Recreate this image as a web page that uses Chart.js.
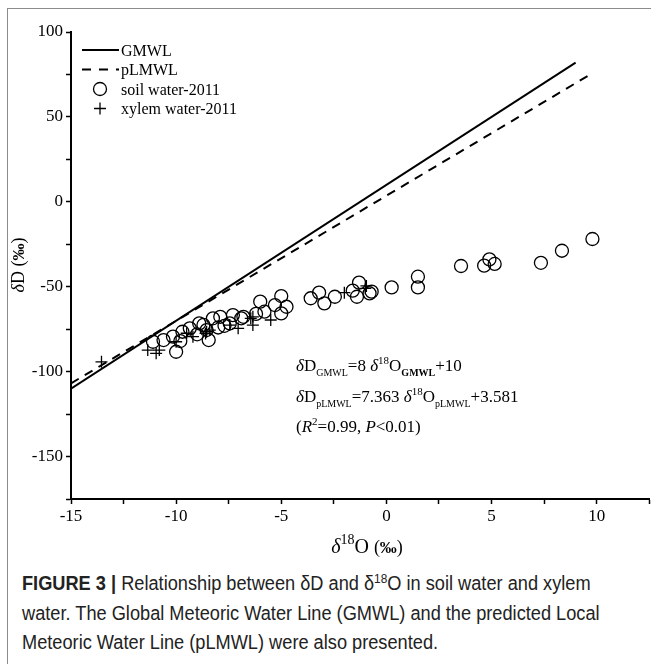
<!DOCTYPE html>
<html>
<head>
<meta charset="utf-8">
<script src="https://cdn.jsdelivr.net/npm/chart.js@4.4.1/dist/chart.umd.min.js"></script>
<style>
  body { margin: 0; background: #fff; width: 651px; height: 664px; overflow: hidden; position: relative; }
  #frame { position: absolute; left: 7px; top: 8px; right: -5px; bottom: -5px; border-left: 1.5px solid #8c8c8c; border-top: 1.5px solid #8c8c8c; }
  #wrap { position: absolute; left: 0; top: 0; width: 657px; height: 560px; }
  #caption { position: absolute; left: 22px; top: 569px; white-space: nowrap; transform: scaleX(0.91); transform-origin: 0 0;
    font-family: "Liberation Sans", sans-serif; font-size: 20px; line-height: 29.5px; color: #222; }
  #caption sup { font-size: 13px; line-height: 0; vertical-align: 7px; }
</style>
</head>
<body>
<div id="frame"></div>
<div id="wrap"><canvas id="c"></canvas></div>
<div id="caption"><b>FIGURE 3 |</b> Relationship between δD and δ<sup>18</sup>O in soil water and xylem<br>water. The Global Meteoric Water Line (GMWL) and the predicted Local<br>Meteoric Water Line (pLMWL) were also presented.</div>
<script>
// line end points
const gmwlO18 = [-15, 9.0];
const gmwlD = [-110, 82];
const plmwlO18 = [-15, 9.6];
const plmwlD = [-106.9, 74.3];

// soil water-2011
const soilO18 = [-11.1, -10.6, -10.0, -10.15, -9.8, -9.7, -9.35, -9.0, -8.9, -8.7, -8.55, -8.45, -8.25, -8.0, -7.9, -7.7,
  -7.45, -7.3, -6.9, -6.8, -6.2, -6.0, -5.8, -5.3, -5.0, -5.0, -4.75, -3.6, -3.2, -2.95, -2.45, -1.6, -1.4, -1.3,
  -0.8, -0.7, 0.25, 1.5, 1.5, 3.55, 4.65, 4.9, 5.15, 7.35, 8.35, 9.8];
const soilD = [-82.4, -81.4, -88.3, -79.4, -82.0, -76.5, -74.5, -78.0, -71.6, -72.5, -75.5, -81.4, -68.6, -74.0, -67.7, -73.0,
  -71.6, -66.7, -68.6, -67.7, -66.0, -58.8, -64.7, -60.8, -55.5, -65.7, -61.8, -56.8, -53.5, -59.8, -55.9, -52.3, -55.9, -47.6,
  -53.9, -52.9, -50.4, -50.4, -44.1, -37.8, -37.6, -33.9, -36.6, -35.9, -28.8, -21.9];

// xylem water-2011
const xylemO18 = [-13.55, -11.35, -10.95, -10.8, -10.0, -9.5, -9.2, -8.6, -8.55, -8.4, -7.45, -7.05, -6.45, -6.35, -6.35,
  -5.5, -2.0, -0.95, -1.0];
const xylemD = [-94.2, -87.3, -89.2, -87.3, -82.4, -77.4, -79.4, -77.5, -76.5, -75.5, -72.6, -74.5, -68.6, -67.7, -72.6,
  -69.6, -53.5, -49.5, -51.0];

const xLabels = [-15, -10, -5, 0, 5, 10];
const yLabels = [-150, -100, -50, 0, 50, 100];

function pts(xs, ys) {
  return xs.map((x, i) => ({ x: x, y: ys[i] }));
}

const serif = n => n + 'px "Liberation Serif", "Times New Roman", serif';

// draws text pieces one after another: [text, font, dy]
function rich(ctx, x, y, parts, align) {
  let w = 0;
  parts.forEach(p => { ctx.font = p[1]; w += ctx.measureText(p[0]).width; });
  let cx = align === 'center' ? x - w / 2 : x;
  parts.forEach(p => {
    ctx.font = p[1];
    ctx.fillText(p[0], cx, y + (p[2] || 0));
    cx += ctx.measureText(p[0]).width;
  });
}

const extras = {
  id: 'extras',
  afterDraw(chart) {
    const ctx = chart.ctx;
    ctx.save();
    ctx.fillStyle = '#000';
    ctx.strokeStyle = '#000';
    ctx.textBaseline = 'alphabetic';
    ctx.textAlign = 'left';

    // legend
    const lx = 82, tx = 121;
    ctx.lineWidth = 2;
    ctx.beginPath(); ctx.moveTo(lx, 50); ctx.lineTo(lx + 37, 50); ctx.stroke();
    ctx.setLineDash([9, 8]);
    ctx.beginPath(); ctx.moveTo(lx, 69.5); ctx.lineTo(lx + 37, 69.5); ctx.stroke();
    ctx.setLineDash([]);
    ctx.lineWidth = 1.3;
    ctx.beginPath(); ctx.arc(100, 89, 6.5, 0, Math.PI * 2); ctx.stroke();
    ctx.beginPath(); ctx.moveTo(94, 108.5); ctx.lineTo(106, 108.5); ctx.moveTo(100, 102.5); ctx.lineTo(100, 114.5); ctx.stroke();
    ctx.font = serif(16);
    ctx.fillText('GMWL', tx, 55.5);
    ctx.fillText('pLMWL', tx, 75);
    ctx.fillText('soil water-2011', tx, 94.5);
    ctx.fillText('xylem water-2011', tx, 114);

    // equations
    const I = 'italic ' + serif(17), R = serif(17), sub = serif(10), subB = 'bold ' + serif(10), sup = serif(11);
    const ex = 296;
    rich(ctx, ex, 371, [['δ', I], ['D', R], ['GMWL', sub, 5], ['=8 ', R], ['δ', I], ['18', sup, -7], ['O', R], ['GMWL', subB, 5], ['+10', R]]);
    rich(ctx, ex, 401.5, [['δ', I], ['D', R], ['pLMWL', sub, 5], ['=7.363 ', R], ['δ', I], ['18', sup, -7], ['O', R], ['pLMWL', sub, 5], ['+3.581', R]]);
    rich(ctx, ex, 432, [['(', R], ['R', I], ['2', sup, -7], ['=0.99, ', R], ['P', I], ['<0.01)', R]]);

    // axis titles
    rich(ctx, 367, 553, [['δ', 'italic ' + serif(20)], ['18', serif(14), -9], ['O ', serif(20)], ['(', serif(18)], ['‰', 'bold ' + serif(17)], [')', serif(18)]], 'center');
    ctx.translate(24, 265);
    ctx.rotate(-Math.PI / 2);
    rich(ctx, 0, 0, [['δ', 'italic ' + serif(18)], ['D ', serif(18)], ['(', serif(18)], ['‰', 'bold ' + serif(17)], [')', serif(18)]], 'center');
    ctx.restore();
  }
};

const tickFont = { family: '"Liberation Serif", "Times New Roman", serif', size: 17 };

new Chart(document.getElementById('c'), {
  type: 'scatter',
  data: {
    datasets: [
      { label: 'GMWL', data: pts(gmwlO18, gmwlD), showLine: true, borderColor: '#000', borderWidth: 2, pointRadius: 0 },
      { label: 'pLMWL', data: pts(plmwlO18, plmwlD), showLine: true, borderColor: '#000', borderWidth: 2, borderDash: [9, 7], pointRadius: 0 },
      { label: 'soil water-2011', data: pts(soilO18, soilD), pointStyle: 'circle', pointRadius: 6.5,
        borderColor: '#000', backgroundColor: 'rgba(255,255,255,0)', borderWidth: 1.3 },
      { label: 'xylem water-2011', data: pts(xylemO18, xylemD), pointStyle: 'cross', pointRadius: 6,
        borderColor: '#000', borderWidth: 1.3 }
    ]
  },
  options: {
    responsive: true,
    maintainAspectRatio: false,
    animation: false,
    layout: { padding: { left: 0, top: 32, right: 0, bottom: 0 } },
    plugins: { legend: { display: false }, tooltip: { enabled: false } },
    scales: {
      x: {
        type: 'linear', min: -15, max: 12.5,
        border: { color: '#000', width: 2 },
        grid: { drawOnChartArea: false, tickLength: 5, color: '#000', tickWidth: 1.5 },
        ticks: { autoSkip: false, maxRotation: 0, padding: 2, color: '#000', font: tickFont,
          callback: v => xLabels.includes(v) ? String(v) : '' },
        afterBuildTicks: s => {
          const t = [];
          for (let v = -15; v <= 12.5; v += 2.5) t.push({ value: v });
          s.ticks = t;
        },
        afterFit: s => { s.height = 61; }
      },
      y: {
        type: 'linear', min: -175, max: 100,
        border: { color: '#000', width: 2 },
        grid: { drawOnChartArea: false, tickLength: 5, color: '#000', tickWidth: 1.5 },
        ticks: { autoSkip: false, padding: 3, color: '#000', font: tickFont,
          callback: v => yLabels.includes(v) ? String(v) : '' },
        afterBuildTicks: s => {
          const t = [];
          for (let v = -175; v <= 100; v += 25) t.push({ value: v });
          s.ticks = t;
        },
        afterFit: s => { s.width = 71; }
      }
    }
  },
  plugins: [extras]
});
</script>
</body>
</html>
